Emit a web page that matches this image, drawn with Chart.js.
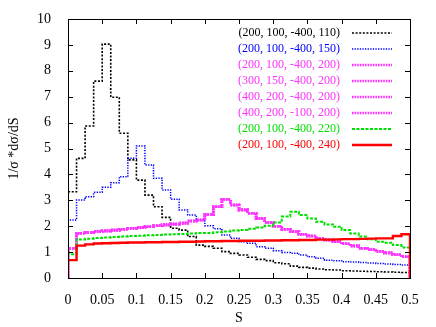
<!DOCTYPE html>
<html>
<head>
<meta charset="utf-8">
<script src="https://cdn.jsdelivr.net/npm/chart.js@4/dist/chart.umd.min.js"></script>
<style>
html,body{margin:0;padding:0;background:#fff;}
#wrap{width:436px;height:327px;}
</style>
</head>
<body>
<div id="wrap"><canvas id="c" width="436" height="327"></canvas></div>
<script>
// Left bin edges of the histograms (S)
const sEdges = [0,0.0125,0.025,0.0375,0.05,0.0625,0.075,0.0875,0.1,0.1125,
  0.125,0.1375,0.15,0.1625,0.175,0.1875,0.2,0.2125,0.225,0.2375,
  0.25,0.2625,0.275,0.2875,0.3,0.3125,0.325,0.3375,0.35,0.3625,
  0.375,0.3875,0.4,0.4125,0.425,0.4375,0.45,0.4625,0.475,0.4875];
const sMax = 0.5;

const seriesLabels = [
  "(200, 100, -400, 110)",
  "(200, 100, -400, 150)",
  "(200, 100, -400, 200)",
  "(300, 150, -400, 200)",
  "(400, 200, -400, 200)",
  "(400, 200, -100, 200)",
  "(200, 100, -400, 220)",
  "(200, 100, -400, 240)"
];

const black110 = [3.33,4.62,5.87,7.6,9.03,6.98,5.59,4.56,3.78,3.2,
  2.75,2.34,1.92,1.85,1.6,1.27,1.22,1.15,1.02,0.95,
  0.89,0.8,0.72,0.67,0.59,0.55,0.46,0.41,0.38,0.35,
  0.32,0.31,0.28,0.27,0.26,0.25,0.24,0.23,0.22,0.21];

const blue150 = [2.24,3.01,3.14,3.31,3.5,3.68,3.91,4.62,5.1,4.36,
  3.85,3.4,3.04,2.63,2.43,2.24,2.02,1.9,1.66,1.53,
  1.4,1.34,1.21,1.15,1.05,0.98,0.96,0.89,0.82,0.76,
  0.69,0.67,0.63,0.62,0.6,0.58,0.56,0.54,0.52,0.5];

const magenta200 = [1.15,1.73,1.76,1.8,1.82,1.85,1.88,1.92,1.95,1.98,
  2.02,2.05,2.08,2.12,2.2,2.24,2.45,2.75,3.04,2.82,
  2.63,2.5,2.3,2.14,2.0,1.88,1.79,1.69,1.62,1.53,
  1.47,1.4,1.32,1.24,1.15,1.1,1.03,0.97,0.9,0.82];
const magenta300_150 = magenta200;
const magenta400_200 = magenta200;
const magenta400_m100 = magenta200;

const green220 = [0.92,1.49,1.52,1.54,1.56,1.58,1.6,1.62,1.63,1.65,
  1.66,1.68,1.69,1.7,1.72,1.74,1.74,1.77,1.8,1.83,
  1.85,1.9,1.95,2.02,2.14,2.37,2.56,2.43,2.3,2.17,
  2.07,1.98,1.85,1.72,1.6,1.5,1.4,1.36,1.27,1.18];

const red240 = [0.69,1.25,1.3,1.33,1.34,1.35,1.36,1.37,1.37,1.38,
  1.38,1.39,1.39,1.4,1.4,1.41,1.42,1.42,1.43,1.43,
  1.44,1.44,1.44,1.45,1.45,1.46,1.46,1.47,1.47,1.48,
  1.48,1.49,1.5,1.5,1.51,1.52,1.53,1.53,1.62,1.69];

const xTicks = [0,0.05,0.1,0.15,0.2,0.25,0.3,0.35,0.4,0.45,0.5];
const yTicks = [0,1,2,3,4,5,6,7,8,9,10];

function histPoints(vals){
  const pts = [{x:sEdges[0], y:0}];
  for (let i=0;i<vals.length;i++) pts.push({x:sEdges[i], y:vals[i]});
  pts.push({x:sMax, y:0});
  return pts;
}

const styles = [
  {c:'#000000', w:1.6, d:[2,1.6]},
  {c:'#0000ff', w:1.5, d:[1.3,1.3]},
  {c:'#ff33ff', w:2.6, d:[1.6,1.0]},
  {c:'#ff33ff', w:2.6, d:[1.6,1.0]},
  {c:'#ff33ff', w:2.6, d:[1.6,1.0]},
  {c:'#ff33ff', w:2.6, d:[1.6,1.0]},
  {c:'#00e000', w:2.0, d:[3,1.5]},
  {c:'#ff0000', w:2.4, d:[]}
];
const allVals = [black110, blue150, magenta200, magenta300_150, magenta400_200, magenta400_m100, green220, red240];

const datasets = allVals.map((v,i)=>({
  label: seriesLabels[i],
  data: histPoints(v),
  borderColor: styles[i].c,
  borderWidth: styles[i].w,
  borderDash: styles[i].d,
  stepped: 'before',
  pointRadius: 0,
  fill: false,
  order: allVals.length - i
}));

const FONT = "'Liberation Serif','Times New Roman',serif";

const framePlugin = {
  id:'frame',
  afterDatasetsDraw(chart){
    const {ctx, chartArea:a, scales:{x,y}} = chart;
    ctx.save();
    ctx.strokeStyle = '#000';
    ctx.lineWidth = 1;
    ctx.setLineDash([]);
    ctx.strokeRect(Math.round(a.left)+0.5, Math.round(a.top)+0.5, Math.round(a.right-a.left), Math.round(a.bottom-a.top));
    const L = 5;
    ctx.beginPath();
    xTicks.forEach(t=>{
      const px = Math.round(x.getPixelForValue(t))+0.5;
      ctx.moveTo(px, a.bottom); ctx.lineTo(px, a.bottom-L);
      ctx.moveTo(px, a.top); ctx.lineTo(px, a.top+L);
    });
    yTicks.forEach(t=>{
      const py = Math.round(y.getPixelForValue(t))+0.5;
      ctx.moveTo(a.left, py); ctx.lineTo(a.left+L, py);
      ctx.moveTo(a.right, py); ctx.lineTo(a.right-L, py);
    });
    ctx.stroke();
    // legend
    ctx.font = '12px ' + FONT;
    ctx.textAlign = 'right';
    ctx.textBaseline = 'middle';
    chart.data.datasets.forEach((ds,i)=>{
      const yy = 33 + i*16;
      ctx.fillStyle = ds.borderColor;
      ctx.fillText(ds.label, 340, yy);
      ctx.strokeStyle = ds.borderColor;
      ctx.lineWidth = ds.borderWidth;
      ctx.setLineDash(ds.borderDash);
      ctx.beginPath();
      ctx.moveTo(352, yy); ctx.lineTo(392, yy);
      ctx.stroke();
    });
    ctx.restore();
  }
};

new Chart(document.getElementById('c'), {
  type:'line',
  data:{datasets},
  options:{
    responsive:false,
    animation:false,
    devicePixelRatio:1,
    layout:{padding:{top:19,right:26,left:0,bottom:0}},
    plugins:{legend:{display:false}, tooltip:{enabled:false}},
    scales:{
      x:{
        type:'linear', min:0, max:0.5,
        afterBuildTicks(s){ s.ticks = xTicks.map(v=>({value:v})); },
        afterFit(s){ s.height = 49; },
        grid:{display:false}, border:{display:false},
        ticks:{color:'#000', font:{family:FONT, size:14}, padding:6, maxRotation:0,
          callback:(v)=>String(Number(v.toFixed(2)))},
        title:{display:true, text:'S', color:'#000', font:{family:FONT, size:14}, padding:{top:5,bottom:0}}
      },
      y:{
        type:'linear', min:0, max:10,
        afterBuildTicks(s){ s.ticks = yTicks.map(v=>({value:v})); },
        afterFit(s){ s.width = 68; },
        grid:{display:false}, border:{display:false},
        ticks:{color:'#000', font:{family:FONT, size:14}, padding:9},
        title:{display:true, text:'1/σ *dσ/dS', color:'#000', font:{family:FONT, size:14}, padding:{top:6,bottom:0}}
      }
    }
  },
  plugins:[framePlugin]
});
</script>
</body>
</html>
